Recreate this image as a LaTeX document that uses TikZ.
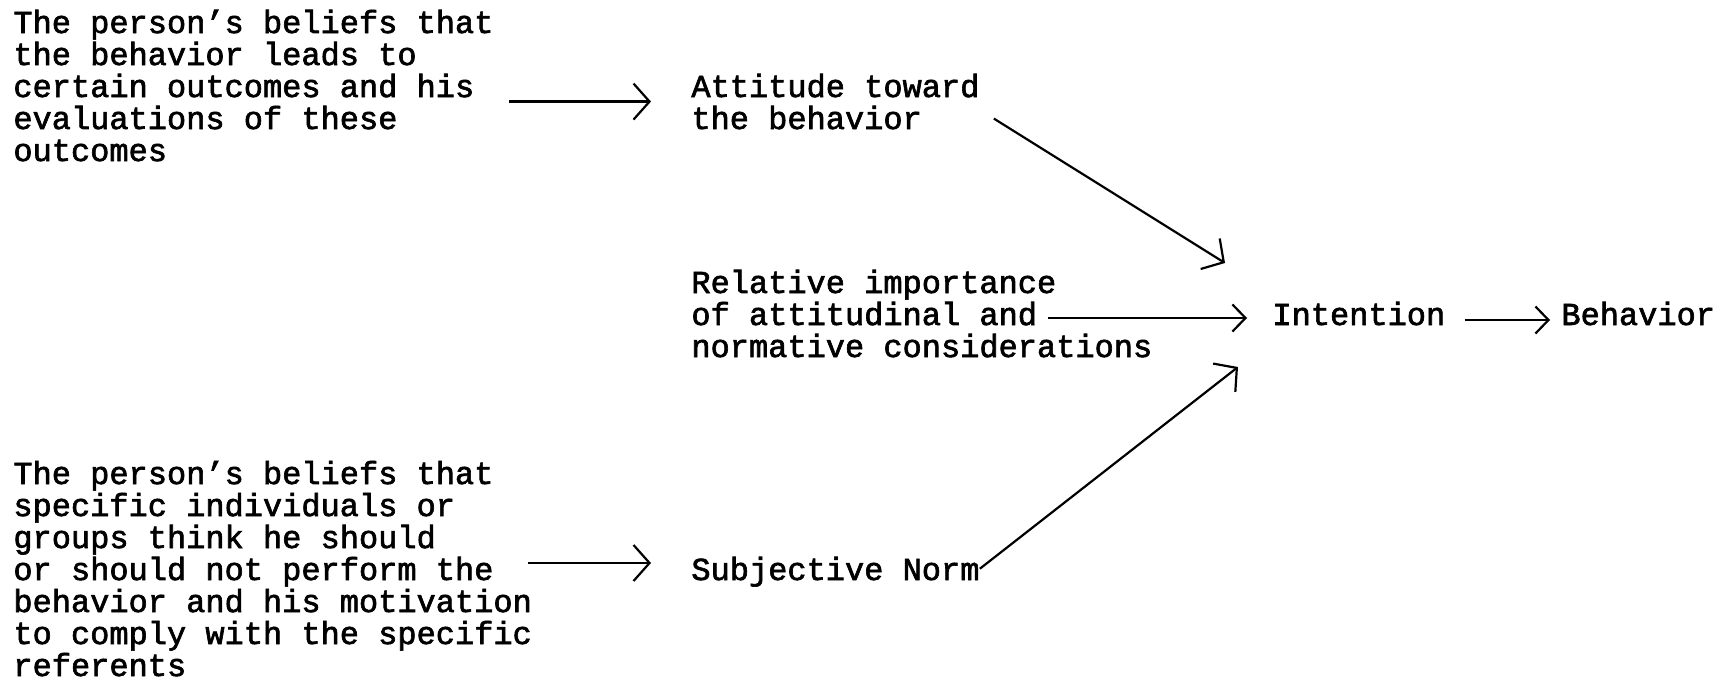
\documentclass[tikz,border=0pt]{standalone}
\usepackage{fontspec}
\newfontfamily\typerfont[FakeBold=2]{Liberation Mono}
\usetikzlibrary{arrows.meta}

\tikzset{
  label text/.style={font=\typerfont\fontsize{16}{16}\selectfont, align=left, inner sep=0pt, anchor=base west},
  link/.style={line width=1.1pt, -{Straight Barb[length=8pt,width=18pt]}},
  short link/.style={line width=1.1pt, -{Straight Barb[length=6.5pt,width=13.5pt]}}
}

\begin{document}
\begin{tikzpicture}[x=0.5pt, y=-0.5pt]
    \useasboundingbox (0,0) rectangle (1730,680);

    % base = last line
    \node[label text] (beliefsA) at (13,161) {The person’s beliefs that\\the behavior leads to\\certain outcomes and his\\evaluations of these\\outcomes};
    \node[label text] (attitude) at (691,129) {Attitude toward\\the behavior};
    \node[label text] (relative) at (691,357) {Relative importance\\of attitudinal and\\normative considerations};
    \node[label text] (intention) at (1272,325) {Intention};
    \node[label text] (behavior) at (1561,325) {Behavior};
    \node[label text] (beliefsB) at (13,676) {The person’s beliefs that\\specific individuals or\\groups think he should\\or should not perform the\\behavior and his motivation\\to comply with the specific\\referents};
    \node[label text] (norm) at (691,580) {Subjective Norm};

    \draw[link] ([xshift=7.5pt]beliefsA.east |- attitude.west) -- ([xshift=-20pt]attitude.west);
    \draw[link] ([shift={(-4,-17)}]beliefsB.east |- norm.base west) -- ([shift={(-40,-17)}]norm.base west);

    \draw[link] ([shift={(14,17)}]attitude.east) -- ([shift={(-47,-62)}]intention.base west);
    \draw[short link] ([shift={(357,-39)}]relative.base west) -- ([shift={(-25,-7)}]intention.base west);
    \draw[link] ([yshift=1.5pt]norm.east) -- ([shift={(-34,42)}]intention.base west);
    \draw[short link] ([shift={(19,-5)}]intention.base east) -- ([shift={(-11,-5)}]behavior.base west);
\end{tikzpicture}
\end{document}
